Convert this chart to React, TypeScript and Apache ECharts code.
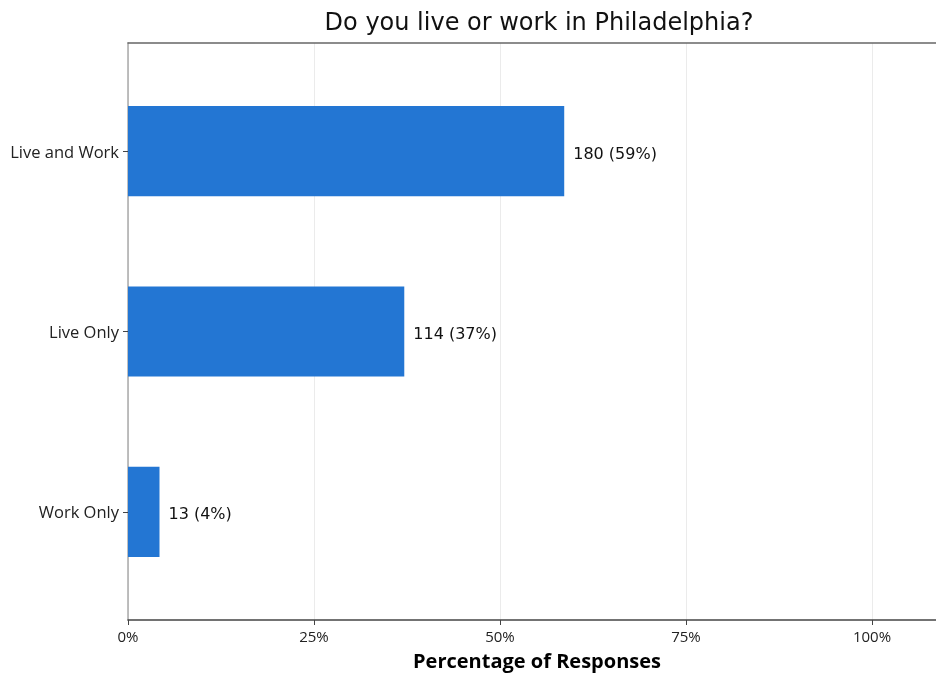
import React, { useEffect, useRef } from "react";
import * as echarts from "echarts";

const categories = ["Live and Work", "Live Only", "Work Only"];
const counts = [180, 114, 13];
const xTickValues = [0, 0.25, 0.5, 0.75, 1];
const titleText = "Do you live or work in Philadelphia?";
const xAxisTitle = "Percentage of Responses";

export default function App() {
  const ref = useRef<HTMLDivElement>(null);
  useEffect(() => {
    if (!ref.current) return;
    const chart = echarts.init(ref.current, null, { renderer: "svg" });
    const total = counts.reduce((a, b) => a + b, 0);
    const data = categories.map((c, i) => [counts[i] / total, i + 1, counts[i]]);
    chart.setOption({
      animation: false,
      title: {
        text: titleText,
        left: 534,
        textAlign: "center",
        top: 5,
        textStyle: { fontFamily: "DejaVu Sans", fontSize: 24, fontWeight: "normal", color: "#111" },
      },
      grid: { left: 128, right: 0, top: 43, bottom: 53, outerBoundsMode: "none" },
      xAxis: [
        {
          type: "value",
          min: 0,
          max: 808 / 744,
          interval: 0.125,
          position: "bottom",
          axisLine: { show: true, lineStyle: { color: "#444", width: 1.5 } },
          axisTick: { show: true, customValues: xTickValues, length: 5, lineStyle: { color: "#444" } },
          axisLabel: {
            customValues: xTickValues,
            formatter: (v: number) => `${Math.round(v * 100)}%`,
            fontFamily: "Open Sans",
            fontSize: 15,
            color: "#222",
            margin: 8,
          },
          splitLine: { show: true, lineStyle: { color: "#ebebeb", width: 1 } },
          name: xAxisTitle,
          nameLocation: "middle",
          nameGap: 30,
          nameTextStyle: { fontFamily: "Open Sans", fontSize: 20, fontWeight: "bold", color: "#000", padding: [0, 0, 0, 10] },
        },
        {
          type: "value",
          min: 0,
          max: 808 / 744,
          position: "top",
          axisLine: { show: true, lineStyle: { color: "#666", width: 1.5 } },
          axisTick: { show: false },
          axisLabel: { show: false },
          splitLine: { show: false },
        },
      ],
      yAxis: {
        type: "value",
        min: 0.4,
        max: 3.6,
        inverse: true,
        axisLine: { show: true, lineStyle: { color: "#aaa", width: 1.5 } },
        axisTick: { show: true, customValues: [1, 2, 3], length: 5, lineStyle: { color: "#444" } },
        axisLabel: {
          customValues: [1, 2, 3],
          formatter: (v: number) => categories[Math.round(v) - 1] ?? "",
          fontFamily: "Open Sans",
          fontSize: 16.5,
          color: "#222",
          margin: 9,
        },
        splitLine: { show: false },
      },
      series: [
        {
          type: "custom",
          xAxisIndex: 0,
          encode: { x: 0, y: 1 },
          data,
          renderItem: (params: any, api: any) => {
            const v = api.value(0);
            const y = api.value(1);
            const cnt = api.value(2);
            const p0 = api.coord([0, y]);
            const p1 = api.coord([v, y]);
            const h = Math.abs(api.size([0, 0.5])[1]);
            return {
              type: "group",
              children: [
                {
                  type: "rect",
                  shape: { x: p0[0], y: p0[1] - h / 2, width: p1[0] - p0[0], height: h },
                  style: { fill: "#2376d3" },
                },
                {
                  type: "text",
                  x: p1[0] + 9,
                  y: p1[1] + 2,
                  style: {
                    text: `${cnt} (${Math.round(v * 100)}%)`,
                    fontFamily: "DejaVu Sans",
                    fontSize: 16,
                    fill: "#111",
                    verticalAlign: "middle",
                    align: "left",
                  },
                },
              ],
            };
          },
        },
      ],
    });
    return () => chart.dispose();
  }, []);
  return <div ref={ref} style={{ position: "fixed", left: 0, top: 0, width: 936, height: 673 }} />;
}
